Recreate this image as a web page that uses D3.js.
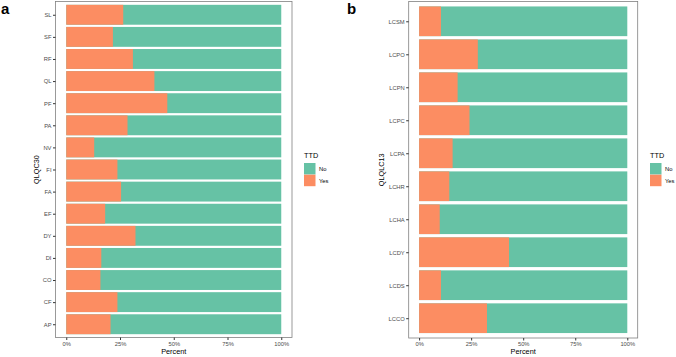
<!DOCTYPE html>
<html>
<head>
<meta charset="utf-8">
<script src="https://cdn.jsdelivr.net/npm/d3@7"></script>
<style>
  body { margin: 0; background: #fff; }
  text { font-family: "Liberation Sans", Arial, sans-serif; }
</style>
</head>
<body>
<div id="viz"></div>
<script>
// panel a: QLQC30 scales, share of "Yes" (TTD)
const catsA = ["SL","SF","RF","QL","PF","PA","NV","FI","FA","EF","DY","DI","CO","CF","AP"]
const yesA = [0.265,0.217,0.31,0.41,0.47,0.285,0.13,0.238,0.255,0.181,0.322,0.163,0.159,0.238,0.206]

// panel b: QLQLC13 scales
const catsB = ["LCSM","LCPO","LCPN","LCPC","LCPA","LCHR","LCHA","LCDY","LCDS","LCCO"]
const yesB = [0.105,0.282,0.185,0.242,0.161,0.145,0.099,0.432,0.105,0.326]

const groups = ["No","Yes"]
const xTicks = [0, 0.25, 0.5, 0.75, 1]
const colors = d3.scaleOrdinal().domain(groups).range(["#66C2A5","#FC8D62"])

const width = 676
const height = 357

const svg = d3.select("#viz").append("svg")
    .attr("width", width)
    .attr("height", height)

function panel(cats, yes, opt) {
    const g = svg.append("g")

    // ggplot-like expansion: 5% on continuous x, 0.6 units on discrete y
    const xScale = d3.scaleLinear()
        .domain([-0.05, 1.05])
        .range([opt.left, opt.right])

    const n = cats.length
    const yUnit = d3.scaleLinear()
        .domain([-0.6, n - 1 + 0.6])
        .range([opt.top, opt.bottom])

    const rows = cats.map((c, i) => ({cat: c, i: i, yes: yes[i]}))

    // green "No" fills the whole bar, orange "Yes" sits on the left
    g.append("g").selectAll("rect.no")
        .data(rows)
        .join("rect")
        .attr("x", xScale(0))
        .attr("y", d => yUnit(d.i - 0.45))
        .attr("width", xScale(1) - xScale(0))
        .attr("height", yUnit(0.9) - yUnit(0))
        .attr("fill", colors("No"))
    g.append("g").selectAll("rect.yes")
        .data(rows)
        .join("rect")
        .attr("x", xScale(0))
        .attr("y", d => yUnit(d.i - 0.45))
        .attr("width", d => xScale(d.yes) - xScale(0))
        .attr("height", yUnit(0.9) - yUnit(0))
        .attr("fill", colors("Yes"))

    // panel border
    g.append("rect")
        .attr("x", opt.left)
        .attr("y", opt.top)
        .attr("width", opt.right - opt.left)
        .attr("height", opt.bottom - opt.top)
        .attr("fill", "none")
        .attr("stroke", "#808080")
        .attr("stroke-width", 0.8)

    // y axis
    const yBand = d3.scalePoint().domain(cats).range([yUnit(0), yUnit(n - 1)])
    const yAxis = g.append("g")
        .attr("transform", `translate(${opt.left},0)`)
        .call(d3.axisLeft(yBand).tickSize(2.5).tickPadding(1.5))
    yAxis.select(".domain").remove()
    yAxis.selectAll("line").attr("stroke", "#333")
    yAxis.selectAll("text").attr("fill", "#4d4d4d").style("font-size", "5.8px")

    // x axis
    const xAxis = g.append("g")
        .attr("transform", `translate(0,${opt.bottom})`)
        .call(d3.axisBottom(xScale).tickValues(xTicks).tickFormat(d3.format(".0%")).tickSize(2.5).tickPadding(1.5))
    xAxis.select(".domain").remove()
    xAxis.selectAll("line").attr("stroke", "#333")
    xAxis.selectAll("text").attr("fill", "#4d4d4d").style("font-size", "5.8px")

    // axis titles
    g.append("text")
        .attr("x", (opt.left + opt.right) / 2)
        .attr("y", 354)
        .attr("text-anchor", "middle")
        .style("font-size", "7.3px")
        .text("Percent")
    g.append("text")
        .attr("transform", `translate(${opt.ytitleX},${(opt.top + opt.bottom) / 2}) rotate(-90)`)
        .attr("text-anchor", "middle")
        .style("font-size", "7.3px")
        .text(opt.ytitle)

    // panel letter
    g.append("text")
        .attr("x", opt.letterX)
        .attr("y", 14)
        .style("font-size", "15px")
        .style("font-weight", "bold")
        .text(opt.letter)

    // legend
    const leg = g.append("g").attr("transform", `translate(${opt.legX},150)`)
    leg.append("text")
        .attr("x", 0)
        .attr("y", 8)
        .style("font-size", "7.3px")
        .text("TTD")
    leg.selectAll("rect")
        .data(groups)
        .join("rect")
        .attr("x", 0)
        .attr("y", (d, i) => 13 + i * 11.7)
        .attr("width", 11.5)
        .attr("height", 11.5)
        .attr("fill", d => colors(d))
    leg.selectAll("text.lab")
        .data(groups)
        .join("text")
        .attr("class", "lab")
        .attr("x", 15)
        .attr("y", (d, i) => 13 + i * 11.7 + 8)
        .style("font-size", "5.8px")
        .text(d => d)
}

panel(catsA, yesA, {left: 55.5, right: 292, top: 1.5, bottom: 337.5,
    ytitle: "QLQC30", ytitleX: 39, letter: "a", letterX: 1, legX: 304})
panel(catsB, yesB, {left: 408.7, right: 637.7, top: 1.5, bottom: 338,
    ytitle: "QLQLC13", ytitleX: 384, letter: "b", letterX: 347, legX: 650})
</script>
</body>
</html>
